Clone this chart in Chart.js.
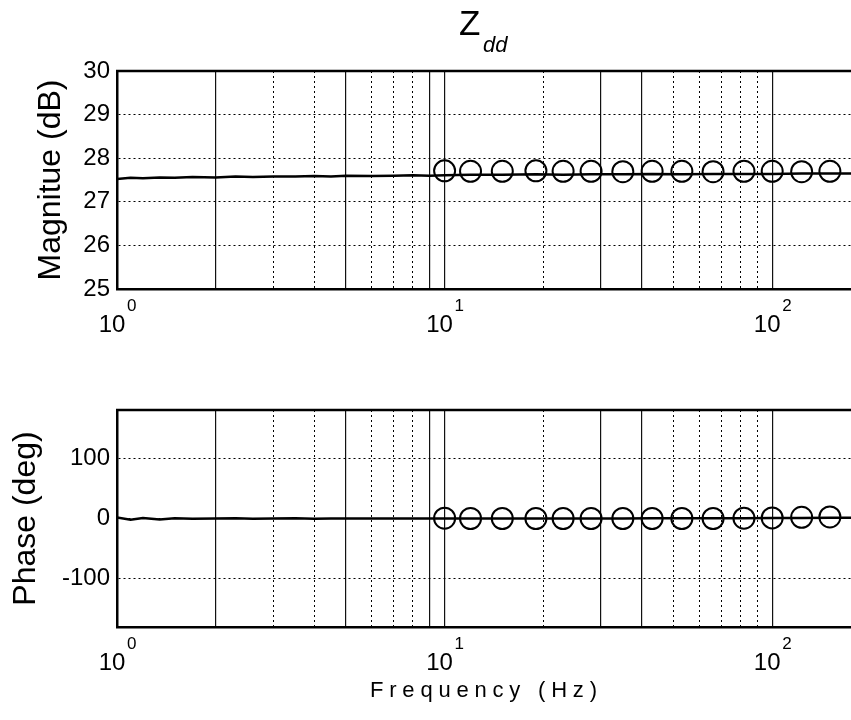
<!DOCTYPE html>
<html>
<head>
<meta charset="utf-8">
<script src="https://cdn.jsdelivr.net/npm/chart.js@4.4.1/dist/chart.umd.min.js"></script>
<style>
  body { margin: 0; background: #fff; width: 851px; height: 720px; position: relative; overflow: hidden;
         font-family: "Liberation Sans", Arial, sans-serif; color: #000; }
  #magChart { position: absolute; left: 0; top: 0; }
  #phaseChart { position: absolute; left: 0; top: 340px; }
  .title-z { position: absolute; left: 459px; top: 5px; font-size: 35px; line-height: 1; }
  .title-sub { position: absolute; left: 483px; top: 34px; font-size: 22px; font-style: italic; line-height: 1; }
  .xlabel { position: absolute; left: 370px; top: 679px; font-size: 22px; line-height: 1; letter-spacing: 5.8px; white-space: nowrap; }
</style>
</head>
<body>
<canvas id="magChart" width="851" height="340"></canvas>
<canvas id="phaseChart" width="851" height="380"></canvas>
<div class="title-z">Z</div><div class="title-sub">dd</div>
<div class="xlabel">Frequency (Hz)</div>
<script>
// solid trace
const lineFreq = [1, 1.1, 1.2, 1.35, 1.5, 1.7, 2, 2.3, 2.6, 3, 3.5, 4, 4.5, 5, 6, 7, 8, 9,
                  10, 12, 15, 19, 23, 28, 35, 43, 53, 66, 82, 100, 123, 150, 174];
const lineMag = [27.52, 27.55, 27.54, 27.56, 27.55, 27.57, 27.56, 27.58, 27.57, 27.58, 27.58, 27.59, 27.58, 27.6, 27.59, 27.6, 27.61, 27.6,
                 27.61, 27.62, 27.62, 27.63, 27.62, 27.63, 27.63, 27.64, 27.63, 27.64, 27.64, 27.64, 27.65, 27.65, 27.65];
const linePhase = [1.5, -2, 1, -1.5, 0.5, -0.5, 0, 0.5, -0.5, 0, 0.3, -0.3, 0, 0.2, 0, -0.2, 0, 0.2,
                   0, 0, 0.2, 0, 0, 0.2, 0, 0.3, 0.4, 0.5, 0.6, 0.8, 1, 1.2, 1.4];

// circle markers
const markFreq = [10, 12, 15, 19, 23, 28, 35, 43, 53, 66, 82, 100, 123, 150];
const markMag = [27.71, 27.7, 27.7, 27.71, 27.7, 27.7, 27.69, 27.7, 27.7, 27.69, 27.7, 27.7, 27.69, 27.7];
const markPhase = [0.5, 0, 0, 0, 0, 0, 0, 0, 0, 0, 0.5, 1, 2, 2.5];

// axes
const gridFreq = [1, 2, 3, 4, 5, 6, 7, 8, 9, 10, 20, 30, 40, 50, 60, 70, 80, 90, 100];
const darkGridFreq = [2, 5, 9, 10, 30, 40, 100];
const decades = [1, 10, 100];
const decadeExp = ['0', '1', '2'];
const magTicks = [25, 26, 27, 28, 29, 30];
const phaseTicks = [-100, 0, 100];

Chart.defaults.font.family = '"Liberation Sans", Arial, sans-serif';
Chart.defaults.color = '#000';

const frameTop = {
  id: 'frameTop',
  afterDraw(chart) {
    const {ctx, chartArea} = chart;
    ctx.save();
    ctx.strokeStyle = '#000';
    ctx.lineWidth = 2.5;
    ctx.beginPath();
    ctx.moveTo(chartArea.left - 1, chartArea.top);
    ctx.lineTo(chartArea.right, chartArea.top);
    ctx.stroke();
    ctx.restore();
  }
};

const decadeExponents = {
  id: 'decadeExponents',
  afterDraw(chart) {
    const {ctx} = chart;
    const x = chart.scales.x;
    ctx.save();
    ctx.fillStyle = '#000';
    ctx.font = '17px "Liberation Sans", Arial, sans-serif';
    ctx.textAlign = 'left';
    ctx.textBaseline = 'middle';
    decades.forEach((v, i) => {
      ctx.fillText(decadeExp[i], x.getPixelForValue(v) + 10, x.top + 17);
    });
    ctx.restore();
  }
};

function makeChart(id, lineVals, markVals, yTitle, yMin, yMax, yTicks, areaTop, areaHeight, titlePad) {
  const canvas = document.getElementById(id);
  const xHeight = canvas.height - areaTop - areaHeight;
  return new Chart(canvas, {
    type: 'scatter',
    data: {
      datasets: [{
        data: lineFreq.map((f, i) => ({x: f, y: lineVals[i]})),
        showLine: true,
        borderColor: '#000',
        borderWidth: 2.5,
        pointRadius: 0,
        tension: 0
      }, {
        data: markFreq.map((f, i) => ({x: f, y: markVals[i]})),
        showLine: false,
        borderColor: '#000',
        backgroundColor: 'rgba(0,0,0,0)',
        borderWidth: 2,
        pointRadius: 10.5,
        pointStyle: 'circle'
      }]
    },
    options: {
      responsive: false,
      animation: false,
      layout: {autoPadding: false, padding: {top: areaTop, left: 0, right: 0, bottom: 0}},
      plugins: {legend: {display: false}, tooltip: {enabled: false}},
      scales: {
        x: {
          type: 'logarithmic',
          min: 1,
          max: 174,
          afterBuildTicks: s => { s.ticks = gridFreq.map(v => ({value: v})); },
          afterFit: s => { s.height = xHeight; s.paddingLeft = 0; s.paddingRight = 0; },
          ticks: {
            autoSkip: false,
            maxRotation: 0,
            padding: 22,
            labelOffset: -5,
            font: {size: 24},
            callback: v => decades.includes(v) ? '10' : ''
          },
          grid: {color: '#000', lineWidth: 1, drawTicks: false},
          border: {color: '#000', width: 2.5, dash: [2, 3]}
        },
        xDark: {
          type: 'logarithmic',
          position: 'bottom',
          min: 1,
          max: 174,
          afterBuildTicks: s => { s.ticks = darkGridFreq.map(v => ({value: v})); },
          afterFit: s => { s.height = 0; s.paddingLeft = 0; s.paddingRight = 0; },
          ticks: {display: false},
          grid: {color: '#111', lineWidth: 1.2, drawTicks: false},
          border: {display: false}
        },
        y: {
          min: yMin,
          max: yMax,
          afterBuildTicks: s => { s.ticks = yTicks.map(v => ({value: v})); },
          afterFit: s => { s.width = 117; s.paddingTop = 0; s.paddingBottom = 0; },
          ticks: {padding: 7, font: {size: 24}},
          title: {display: true, text: yTitle, font: {size: 32}, padding: {top: titlePad, bottom: 0}},
          grid: {color: '#000', lineWidth: 1, drawTicks: false},
          border: {color: '#000', width: 2.5, dash: [2, 3]}
        }
      }
    },
    plugins: [frameTop, decadeExponents]
  });
}

makeChart('magChart', lineMag, markMag, 'Magnitue (dB)', 25, 30, magTicks, 71, 218, 32);
makeChart('phaseChart', linePhase, markPhase, 'Phase (deg)', -180, 180, phaseTicks, 70, 217, 7);
</script>
</body>
</html>
